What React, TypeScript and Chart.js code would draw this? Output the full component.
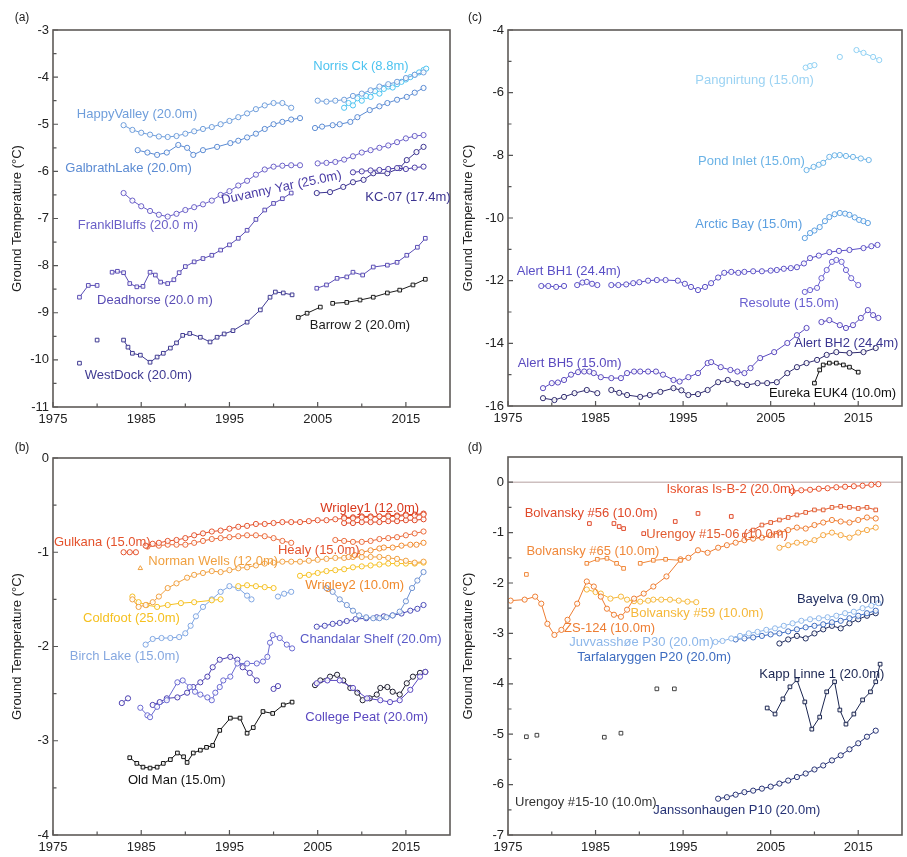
import React, { useEffect, useRef } from "react";
import { Chart, registerables } from "chart.js";
Chart.register(...registerables);

const FONT = "'Liberation Sans', Arial, Helvetica, sans-serif";
type Pt = [number, number | null];

const YEAR_TICKS = [1975, 1985, 1995, 2005, 2015];
const YEAR_MINOR = [1980, 1990, 2000, 2010];
const A_Y_TICKS = [-11, -10, -9, -8, -7, -6, -5, -4, -3];
const B_Y_TICKS = [-4, -3, -2, -1, 0];
const C_Y_TICKS = [-16, -14, -12, -10, -8, -6, -4];
const D_Y_TICKS = [-7, -6, -5, -4, -3, -2, -1, 0];

// ---------- Panel (a) ----------
const HAPPY_VALLEY: Pt[] = [[1983,-5.02],[1984,-5.12],[1985,-5.18],[1986,-5.22],[1987,-5.26],[1988,-5.27],[1989,-5.25],[1990,-5.2],[1991,-5.15],[1992,-5.1],[1993,-5.06],[1994,-5.0],[1995,-4.93],[1996,-4.85],[1997,-4.77],[1998,-4.68],[1999,-4.6],[2000,-4.55],[2001,-4.55],[2002,-4.65],[2003,null],[2005,-4.5],[2006,-4.52],[2007,-4.5],[2008,-4.48],[2009,-4.4],[2010,-4.35],[2011,-4.28],[2012,-4.2],[2013,-4.15],[2014,-4.1],[2015,-4.02],[2016,-3.95],[2017,-3.9]];
const GALBRATH_LAKE: Pt[] = [[1984.6,-5.55],[1985.7,-5.6],[1986.8,-5.65],[1987.9,-5.6],[1989.2,-5.44],[1990.2,-5.5],[1990.9,-5.65],[1992,-5.55],[1993.6,-5.48],[1995.1,-5.4],[1996,-5.35],[1997,-5.28],[1998,-5.2],[1999,-5.1],[2000,-5.0],[2001,-4.95],[2002,-4.9],[2003,-4.87],[2004,null],[2004.7,-5.08],[2005.5,-5.05],[2006.7,-5.02],[2007.5,-5.0],[2008.7,-4.95],[2009.5,-4.85],[2010.9,-4.7],[2012,-4.62],[2012.9,-4.55],[2014,-4.48],[2015.1,-4.42],[2016,-4.33],[2017,-4.23]];
const NORRIS_CK: Pt[] = [[2008,-4.65],[2008.5,-4.55],[2009,-4.6],[2009.5,-4.45],[2010,-4.5],[2010.5,-4.4],[2011,-4.42],[2011.5,-4.3],[2012,-4.35],[2012.5,-4.25],[2013,-4.2],[2013.5,-4.22],[2014,-4.15],[2014.5,-4.1],[2015,-4.05],[2015.5,-4.0],[2016,-3.95],[2016.5,-3.9],[2017,-3.85],[2017.3,-3.82]];
const FRANKLIN_BLUFFS: Pt[] = [[1983,-6.46],[1984,-6.62],[1985,-6.74],[1986,-6.84],[1987,-6.92],[1988,-6.96],[1989,-6.9],[1990,-6.82],[1991,-6.76],[1992,-6.7],[1993,-6.62],[1994,-6.5],[1995,-6.42],[1996,-6.3],[1997,-6.2],[1998,-6.07],[1999,-5.96],[2000,-5.9],[2001,-5.88],[2002,-5.87],[2003,-5.87],[2004,null],[2005,-5.83],[2006,-5.82],[2007,-5.8],[2008,-5.75],[2009,-5.68],[2010,-5.6],[2011,-5.55],[2012,-5.5],[2013,-5.45],[2014,-5.38],[2015,-5.3],[2016,-5.25],[2017,-5.23]];
const DUVANNY_YAR: Pt[] = [[2009,-6.02],[2010,-6.0],[2011,-5.98],[2012,-5.97],[2013,-5.95],[2014,-5.93],[2015,-5.95],[2016,-5.92],[2017,-5.9]];
const KC_07: Pt[] = [[2004.9,-6.46],[2006.4,-6.44],[2007.9,-6.33],[2009,-6.23],[2010.2,-6.18],[2011.3,-6.04],[2012.9,-6.04],[2014.3,-5.93],[2015.1,-5.76],[2016.2,-5.59],[2017,-5.48]];
const DEADHORSE: Pt[] = [[1978,-8.67],[1979,-8.42],[1980,-8.42],[1981,null],[1981.7,-8.14],[1982.3,-8.12],[1983,-8.15],[1983.7,-8.38],[1984.5,-8.45],[1985.2,-8.44],[1986,-8.14],[1986.6,-8.2],[1987.2,-8.35],[1988,-8.38],[1988.7,-8.3],[1989.3,-8.15],[1990,-8.02],[1991,-7.92],[1992,-7.85],[1993,-7.78],[1994,-7.67],[1995,-7.56],[1996,-7.42],[1997,-7.25],[1998,-7.02],[1999,-6.82],[2000,-6.68],[2001,-6.58],[2002,-6.46],[2003,null],[2004.9,-8.48],[2006,-8.41],[2007.2,-8.27],[2008.3,-8.24],[2009,-8.14],[2010.1,-8.2],[2011.3,-8.03],[2012.9,-7.99],[2014,-7.93],[2015.1,-7.78],[2016.3,-7.61],[2017.2,-7.42]];
const WEST_DOCK: Pt[] = [[1978,-10.07],[1979,null],[1980,-9.58],[1981,null],[1983,-9.58],[1983.5,-9.73],[1984,-9.86],[1984.9,-9.9],[1986,-10.05],[1986.8,-9.94],[1987.5,-9.86],[1988.3,-9.75],[1989,-9.64],[1989.7,-9.48],[1990.5,-9.44],[1991.7,-9.52],[1992.8,-9.62],[1993.6,-9.52],[1994.4,-9.45],[1995.4,-9.38],[1997,-9.2],[1998.5,-8.94],[1999.6,-8.67],[2000.2,-8.56],[2001.1,-8.58],[2002.1,-8.62]];
const BARROW_2: Pt[] = [[2002.8,-9.1],[2003.8,-9.01],[2005.3,-8.88],[2006,null],[2006.7,-8.8],[2008.3,-8.78],[2009.8,-8.73],[2011.3,-8.67],[2012.9,-8.58],[2014.3,-8.52],[2015.8,-8.41],[2017.2,-8.29]];

// ---------- Panel (b) ----------
const GULKANA: Pt[] = [[1983,-1.0],[1983.7,-1.0],[1984.4,-1.0],[1985,null],[1985.5,-0.93],[1986.3,-0.91],[1987,-0.9],[1988,-0.88],[1989,-0.87],[1990,-0.85],[1991,-0.82],[1992,-0.8],[1993,-0.78],[1994,-0.77],[1995,-0.75],[1996,-0.73],[1997,-0.72],[1998,-0.7],[1999,-0.7],[2000,-0.69],[2001,-0.68],[2002,-0.68],[2003,-0.68],[2004,-0.67],[2005,-0.66],[2006,-0.66],[2007,-0.65],[2008,-0.64],[2009,-0.64],[2010,-0.63],[2011,-0.63],[2012,-0.62],[2013,-0.62],[2014,-0.62],[2015,-0.61],[2016,-0.61],[2017,-0.6]];
const HEALY: Pt[] = [[1985.7,-0.94],[1987,-0.93],[1988,-0.92],[1989,-0.92],[1990,-0.92],[1991,-0.9],[1992,-0.88],[1993,-0.86],[1994,-0.85],[1995,-0.84],[1996,-0.83],[1997,-0.82],[1998,-0.82],[1999,-0.83],[2000,-0.85],[2001,-0.88],[2002,-0.9],[2003,null],[2007,-0.87],[2008,-0.88],[2009,-0.89],[2010,-0.89],[2011,-0.88],[2012,-0.86],[2013,-0.85],[2014,-0.84],[2015,-0.82],[2016,-0.8],[2017,-0.78]];
const WRIGLEY_1: Pt[] = [[2008,-0.63],[2009,-0.63],[2010,-0.62],[2011,-0.62],[2012,-0.62],[2013,-0.61],[2014,-0.61],[2015,-0.6],[2016,-0.6],[2017,-0.59]];
const WRIGLEY_1_LOWER: Pt[] = [[2008,-0.69],[2009,-0.69],[2010,-0.68],[2011,-0.68],[2012,-0.68],[2013,-0.67],[2014,-0.67],[2015,-0.66],[2016,-0.66],[2017,-0.65]];
const WRIGLEY_2: Pt[] = [[2008.5,-1.05],[2009.2,-1.03],[2010,-1.0],[2011,-0.98],[2012,-0.96],[2012.5,-0.95],[2013.5,-0.95],[2014.5,-0.93],[2015.5,-0.92],[2016.2,-0.92],[2017,-0.9]];
const NORMAN_WELLS: Pt[] = [[1984,-1.5],[1984.7,-1.58],[1985.5,-1.56],[1986.3,-1.53],[1987,-1.47],[1988,-1.38],[1989,-1.33],[1990.2,-1.27],[1991,-1.24],[1992,-1.22],[1993,-1.2],[1994,-1.21],[1995,-1.19],[1996,-1.17],[1997,-1.16],[1998,-1.14],[1999,-1.12],[2000,-1.11],[2001,-1.1],[2002,-1.1],[2003,-1.1],[2004,-1.09],[2005,-1.08],[2006,-1.07],[2007,-1.06],[2008,-1.06],[2009,-1.05],[2010,-1.05],[2011,-1.05],[2012,-1.05],[2013,-1.06],[2014,-1.07],[2015,-1.09],[2016,-1.11],[2017,-1.1]];
const NORMAN_WELLS_EARLY: Pt[] = [[1984.9,-1.17]];
const COLDFOOT: Pt[] = [[1984,-1.47],[1984.7,-1.53],[1985.6,-1.56],[1986.8,-1.58],[1988,-1.56],[1989.5,-1.54],[1991,-1.53],[1993,-1.51],[1994,-1.5],[1995,null],[1996,-1.36],[1997,-1.35],[1998,-1.36],[1999,-1.37],[2000,-1.38],[2001,null],[2003,-1.25],[2004,-1.24],[2005,-1.22],[2006,-1.2],[2007,-1.19],[2008,-1.18],[2009,-1.16],[2010,-1.15],[2011,-1.14],[2012,-1.13],[2013,-1.12],[2014,-1.12],[2015,-1.12],[2016,-1.12],[2017,-1.11]];
const BIRCH_LAKE: Pt[] = [[1985.5,-1.98],[1986.3,-1.92],[1987.3,-1.91],[1988.3,-1.91],[1989.3,-1.9],[1990,-1.86],[1990.6,-1.78],[1991.2,-1.68],[1992,-1.58],[1993,-1.5],[1994,-1.42],[1995,-1.36],[1996,-1.38],[1997,-1.46],[1997.5,-1.5],[1998,null],[2000.5,-1.47],[2001.2,-1.44],[2002,-1.42]];
const CHANDALAR_DIP: Pt[] = [[2006,-1.38],[2006.7,-1.42],[2007.5,-1.5],[2008.3,-1.56],[2009,-1.62],[2009.7,-1.67],[2010.5,-1.69],[2011.3,-1.7],[2012,-1.7],[2012.8,-1.69],[2013.5,-1.67],[2014.3,-1.63],[2015,-1.52],[2015.7,-1.38],[2016.3,-1.3],[2017,-1.21]];
const CHANDALAR_SHELF: Pt[] = [[2004.9,-1.79],[2005.8,-1.78],[2006.7,-1.76],[2007.5,-1.75],[2008.3,-1.73],[2009.3,-1.71],[2010.5,-1.7],[2011.7,-1.69],[2012.5,-1.68],[2013.5,-1.67],[2014.5,-1.65],[2015.5,-1.62],[2016.3,-1.6],[2017,-1.56]];
const INTERIOR_1: Pt[] = [[1984.9,-2.65],[1985.7,-2.73],[1986,-2.75],[1986.8,-2.64],[1987.9,-2.57],[1989.1,-2.38],[1989.7,-2.36],[1990.5,-2.43],[1991.1,-2.48],[1991.7,-2.51],[1992.5,-2.54],[1993,-2.57],[1993.4,-2.49],[1993.9,-2.43],[1994.3,-2.36],[1995.1,-2.32],[1995.9,-2.18],[1997,-2.18],[1998.1,-2.18],[1998.8,-2.16],[1999.3,-2.11],[1999.6,-1.96],[1999.9,-1.88],[2000.7,-1.91],[2001.5,-1.98],[2002.1,-2.02]];
const INTERIOR_2: Pt[] = [[1982.8,-2.6],[1983.5,-2.55],[1984,null],[1986.3,-2.62],[1987.1,-2.59],[1987.9,-2.55],[1989.1,-2.54],[1990.2,-2.49],[1990.9,-2.43],[1991.7,-2.38],[1992.5,-2.32],[1993.1,-2.22],[1993.9,-2.14],[1995.1,-2.11],[1995.9,-2.14],[1996.5,-2.22],[1997.3,-2.28],[1998.1,-2.36],[1998.5,null],[2000,-2.45],[2000.5,-2.42]];
const COLLEGE_PEAT: Pt[] = [[2004.9,-2.39],[2006.1,-2.36],[2007.5,-2.36],[2009,-2.44],[2010.6,-2.55],[2012.1,-2.57],[2013.2,-2.59],[2014.3,-2.57],[2015.5,-2.46],[2016.6,-2.32],[2017.2,-2.27]];
const INTERIOR_DARK: Pt[] = [[2004.7,-2.41],[2005.3,-2.36],[2006.4,-2.32],[2007.2,-2.3],[2007.9,-2.36],[2008.7,-2.44],[2009.5,-2.49],[2010.1,-2.57],[2010.9,-2.55],[2011.7,-2.51],[2012.1,-2.44],[2012.9,-2.43],[2013.5,-2.48],[2014.3,-2.51],[2015.1,-2.39],[2015.8,-2.32],[2016.6,-2.28],[2017.2,-2.27]];
const OLD_MAN: Pt[] = [[1983.7,-3.18],[1984.5,-3.24],[1985.2,-3.28],[1986,-3.29],[1986.8,-3.28],[1987.5,-3.24],[1988.3,-3.2],[1989.1,-3.13],[1989.8,-3.17],[1990.2,-3.23],[1990.9,-3.13],[1991.7,-3.1],[1992.4,-3.07],[1993.1,-3.05],[1993.9,-2.89],[1995.1,-2.76],[1996.2,-2.76],[1997,-2.92],[1997.7,-2.86],[1998.8,-2.69],[1999.9,-2.71],[2001.1,-2.62],[2002.1,-2.59]];

// ---------- Panel (c) ----------
const PANGNIRTUNG: Pt[] = [[2009,-5.2],[2009.5,-5.15],[2010,-5.12],[2010.5,null],[2012.9,-4.86],[2013.5,null],[2014.8,-4.64],[2015.6,-4.73],[2016.7,-4.86],[2017.4,-4.96]];
const POND_INLET: Pt[] = [[2009.1,-8.47],[2009.9,-8.37],[2010.5,-8.3],[2011,-8.24],[2011.7,-8.05],[2012.3,-8.0],[2012.9,-7.99],[2013.6,-8.02],[2014.4,-8.05],[2015.3,-8.1],[2016.2,-8.15]];
const ARCTIC_BAY: Pt[] = [[2008.9,-10.64],[2009.5,-10.48],[2010,-10.4],[2010.6,-10.29],[2011.2,-10.1],[2011.7,-9.97],[2012.3,-9.88],[2012.9,-9.84],[2013.5,-9.86],[2014,-9.9],[2014.6,-9.98],[2015.1,-10.06],[2015.6,-10.1],[2016.1,-10.16]];
const ALERT_BH1: Pt[] = [[1978.8,-12.17],[1979.6,-12.17],[1980.5,-12.2],[1981.4,-12.17],[1982,null],[1982.9,-12.14],[1983.5,-12.06],[1984,-12.04],[1984.6,-12.1],[1985.2,-12.14],[1986,null],[1986.8,-12.14],[1987.6,-12.14],[1988.5,-12.12],[1989.3,-12.08],[1990,-12.05],[1991,-12.0],[1992,-11.98],[1993,-11.98],[1994.4,-12.0],[1995.2,-12.1],[1995.9,-12.2],[1996.7,-12.3],[1997.5,-12.2],[1998.2,-12.08],[1999,-11.9],[1999.7,-11.75],[2000.5,-11.72],[2001.3,-11.75],[2002,-11.72],[2003,-11.7],[2004,-11.7],[2005,-11.68],[2005.7,-11.66],[2006.5,-11.62],[2007.3,-11.6],[2008,-11.57],[2008.8,-11.45],[2009.5,-11.28],[2010.5,-11.2],[2011.7,-11.09],[2012.8,-11.05],[2014,-11.02],[2015.6,-10.96],[2016.5,-10.9],[2017.2,-10.86]];
const RESOLUTE: Pt[] = [[2008.9,-12.36],[2009.5,-12.3],[2010.3,-12.23],[2010.8,-11.92],[2011.4,-11.66],[2012,-11.4],[2012.5,-11.34],[2013.1,-11.4],[2013.6,-11.66],[2014.2,-11.92],[2015,-12.14]];
const ALERT_BH5: Pt[] = [[1979,-15.43],[1980,-15.27],[1980.7,-15.25],[1981.4,-15.17],[1982.2,-15.0],[1983,-14.92],[1983.7,-14.9],[1984.3,-14.9],[1984.8,-14.95],[1985.6,-15.08],[1986.8,-15.11],[1987.9,-15.11],[1988.6,-14.95],[1989.4,-14.9],[1990.1,-14.9],[1991,-14.9],[1991.9,-14.9],[1992.7,-15.0],[1993.9,-15.17],[1994.6,-15.22],[1995.6,-15.08],[1996.7,-14.95],[1997.8,-14.63],[1998.2,-14.6],[1999.3,-14.76],[2000.4,-14.85],[2001.2,-14.9],[2002,-14.95],[2002.7,-14.79],[2003.8,-14.47],[2005.4,-14.28],[2006.9,-13.99],[2008,-13.74],[2009.1,-13.51],[2010,null],[2010.8,-13.32],[2011.7,-13.26],[2012.9,-13.42],[2013.6,-13.51],[2014.4,-13.42],[2015.3,-13.19],[2016.1,-12.94],[2016.7,-13.1],[2017.3,-13.19]];
const ALERT_BH2: Pt[] = [[1979,-15.75],[1980.3,-15.81],[1981.4,-15.71],[1982.6,-15.59],[1984,-15.49],[1985.2,-15.59],[1986,null],[1986.8,-15.49],[1987.7,-15.58],[1988.6,-15.65],[1990.1,-15.71],[1991.2,-15.65],[1992.4,-15.55],[1993.9,-15.43],[1994.8,-15.5],[1995.6,-15.65],[1996.7,-15.62],[1997.8,-15.49],[1999,-15.24],[2000.1,-15.17],[2001.2,-15.27],[2002.3,-15.33],[2003.5,-15.27],[2004.6,-15.27],[2005.7,-15.24],[2006.9,-14.95],[2008,-14.76],[2009.1,-14.63],[2010.3,-14.53],[2011.4,-14.37],[2012.5,-14.28],[2014,-14.31],[2015.6,-14.28],[2017,-14.15]];
const EUREKA_EUK4: Pt[] = [[2010,-15.27],[2010.6,-14.85],[2011,-14.69],[2011.7,-14.63],[2012.5,-14.63],[2013.3,-14.69],[2014,-14.76],[2015,-14.92]];

// ---------- Panel (d) ----------
const ISKORAS: Pt[] = [[2007.5,-0.18],[2008.5,-0.16],[2009.5,-0.15],[2010.5,-0.13],[2011.5,-0.12],[2012.5,-0.1],[2013.5,-0.09],[2014.5,-0.08],[2015.5,-0.07],[2016.5,-0.05],[2017.3,-0.04]];
const BOLVANSKY_56: Pt[] = [[1984.3,-0.82],[1987.1,-0.82],[1987.7,-0.88],[1988.2,-0.92],[1990.5,-1.02],[1994.1,-0.78],[1996.7,-0.62],[2000.5,-0.68]];
const URENGOY_15_06: Pt[] = [[2002,-1.05],[2003,-0.95],[2004,-0.85],[2005,-0.8],[2006,-0.75],[2007,-0.7],[2008,-0.65],[2009,-0.6],[2010,-0.55],[2011,-0.55],[2012,-0.5],[2013,-0.48],[2014,-0.5],[2015,-0.52],[2016,-0.5],[2017,-0.55]];
const BOLVANSKY_65: Pt[] = [[1984,-1.61],[1985.2,-1.53],[1986.3,-1.51],[1987.4,-1.61],[1988.2,-1.71],[1989,null],[1990.1,-1.61],[1991.6,-1.55],[1993,-1.53],[1994.7,-1.55]];
const BOLVANSKY_65_EARLY: Pt[] = [[1977.1,-1.83]];
const ZS_124: Pt[] = [[1975.3,-2.35],[1976.9,-2.33],[1978.1,-2.27],[1978.8,-2.41],[1979.5,-2.81],[1980.3,-3.03],[1981.1,-2.93],[1981.8,-2.73],[1982.9,-2.41],[1984,-1.97],[1984.8,-2.07],[1985.6,-2.27],[1986.3,-2.51],[1987.1,-2.63],[1987.9,-2.67],[1988.6,-2.53],[1989.4,-2.31],[1990.5,-2.21],[1991.6,-2.07],[1993.1,-1.87],[1994.7,-1.53],[1995.6,-1.5],[1996.7,-1.35],[1997.8,-1.4],[1999,-1.3],[2000,-1.25],[2001,-1.2],[2002,-1.15],[2003,-1.12],[2004,-1.1],[2005,-1.05],[2006,-1.0],[2007,-0.95],[2008,-0.9],[2009,-0.92],[2010,-0.85],[2011,-0.8],[2012,-0.75],[2013,-0.78],[2014,-0.8],[2015,-0.75],[2016,-0.7],[2017,-0.72]];
const BOLVANSKY_59: Pt[] = [[1984,-2.13],[1985,-2.18],[1985.6,-2.21],[1986.7,-2.31],[1987.9,-2.27],[1988.6,-2.33],[1989.4,-2.36],[1990.1,-2.37],[1991,-2.35],[1991.6,-2.33],[1992.5,-2.33],[1993.5,-2.33],[1994.5,-2.35],[1995.5,-2.37],[1996.5,-2.38]];
const URENGOY_LATE: Pt[] = [[2006,-1.3],[2007,-1.25],[2008,-1.2],[2009,-1.2],[2010,-1.15],[2011,-1.05],[2012,-1.0],[2013,-1.05],[2014,-1.1],[2015,-1.0],[2016,-0.95],[2017,-0.9]];
const JUVVASSHOE: Pt[] = [[1998.7,-3.17],[1999.5,-3.15],[2000.5,-3.1],[2001.5,-3.05],[2002.5,-3.0],[2003.5,-2.97],[2004.5,-2.93],[2005.5,-2.9],[2006.5,-2.85],[2007.5,-2.8],[2008.5,-2.75],[2009.5,-2.72],[2010.5,-2.7],[2011.5,-2.68],[2012.5,-2.65],[2013.5,-2.6],[2014.5,-2.57],[2015.5,-2.5],[2016.5,-2.45],[2017.3,-2.4]];
const TARFALARYGGEN: Pt[] = [[2001,-3.12],[2002,-3.1],[2003,-3.08],[2004,-3.05],[2005,-3.02],[2006,-3.0],[2007,-2.96],[2008,-2.92],[2009,-2.88],[2010,-2.85],[2011,-2.82],[2012,-2.78],[2013,-2.75],[2014,-2.7],[2015,-2.65],[2016,-2.6],[2017,-2.55]];
const BAYELVA: Pt[] = [[2006,-3.2],[2007,-3.12],[2008,-3.05],[2009,-3.1],[2010,-3.0],[2011,-2.92],[2012,-2.85],[2013,-2.9],[2014,-2.8],[2015,-2.72],[2016,-2.65],[2017,-2.6]];
const KAPP_LINNE: Pt[] = [[2004.6,-4.48],[2005.5,-4.6],[2006.4,-4.3],[2007.2,-4.06],[2008,-3.92],[2008.9,-4.36],[2009.7,-4.9],[2010.6,-4.66],[2011.4,-4.16],[2012.3,-3.96],[2012.9,-4.52],[2013.6,-4.8],[2014.5,-4.6],[2015.5,-4.32],[2016.4,-4.16],[2017,-3.96],[2017.5,-3.61]];
const JANSSONHAUGEN: Pt[] = [[1999,-6.28],[2000,-6.25],[2001,-6.2],[2002,-6.15],[2003,-6.12],[2004,-6.08],[2005,-6.04],[2006,-5.98],[2007,-5.92],[2008,-5.85],[2009,-5.78],[2010,-5.7],[2011,-5.62],[2012,-5.52],[2013,-5.42],[2014,-5.3],[2015,-5.18],[2016,-5.05],[2017,-4.93]];
const URENGOY_15_10: Pt[] = [[1977.1,-5.05],[1978.3,-5.02],[1986,-5.06],[1987.9,-4.98],[1992,-4.1],[1994,-4.1]];

type Spec = { data: Pt[]; color: string; style?: string; line?: boolean };
type Label = { text: string; x: number; y: number; color: string; rot?: number };

const A_SERIES: Spec[] = [
  { data: HAPPY_VALLEY, color: "#6f9edb" },
  { data: GALBRATH_LAKE, color: "#5b8bd3" },
  { data: NORRIS_CK, color: "#4cc3f0" },
  { data: FRANKLIN_BLUFFS, color: "#6b60c8" },
  { data: DUVANNY_YAR, color: "#4a3ca6" },
  { data: KC_07, color: "#3b3390" },
  { data: DEADHORSE, color: "#5a4db5", style: "rect" },
  { data: WEST_DOCK, color: "#3f3a92", style: "rect" },
  { data: BARROW_2, color: "#1c1c1c", style: "rect" },
];
const A_LABELS: Label[] = [
  { text: "HappyValley (20.0m)", x: 1977.7, y: -4.8, color: "#6f9edb" },
  { text: "GalbrathLake (20.0m)", x: 1976.4, y: -5.93, color: "#5b8bd3" },
  { text: "FranklBluffs (20.0 m)", x: 1977.8, y: -7.14, color: "#6b60c8" },
  { text: "Deadhorse (20.0 m)", x: 1980.0, y: -8.73, color: "#5a4db5" },
  { text: "WestDock (20.0m)", x: 1978.6, y: -10.33, color: "#3f3a92" },
  { text: "Barrow 2 (20.0m)", x: 2004.1, y: -9.26, color: "#1c1c1c" },
  { text: "Norris Ck (8.8m)", x: 2004.5, y: -3.78, color: "#4cc3f0" },
  { text: "Duvanny Yar (25.0m)", x: 2000.9, y: -6.35, color: "#4a3ca6", rot: -12 },
  { text: "KC-07 (17.4m)", x: 2010.4, y: -6.55, color: "#3b3390" },
];

const B_SERIES: Spec[] = [
  { data: GULKANA, color: "#e4522c" },
  { data: WRIGLEY_1, color: "#d9381c" },
  { data: WRIGLEY_1_LOWER, color: "#de4524" },
  { data: HEALY, color: "#ea6a3a" },
  { data: WRIGLEY_2, color: "#f08a2c" },
  { data: NORMAN_WELLS, color: "#f0a040" },
  { data: NORMAN_WELLS_EARLY, color: "#f0a040", style: "triangle", line: false },
  { data: COLDFOOT, color: "#f5c020" },
  { data: BIRCH_LAKE, color: "#7fa6e2" },
  { data: CHANDALAR_DIP, color: "#6f93d2" },
  { data: CHANDALAR_SHELF, color: "#4a4bb8" },
  { data: INTERIOR_1, color: "#6a6ad2" },
  { data: INTERIOR_2, color: "#4b3fb0" },
  { data: COLLEGE_PEAT, color: "#5a48c0" },
  { data: INTERIOR_DARK, color: "#1d1d2e" },
  { data: OLD_MAN, color: "#111111", style: "rect" },
];
const B_LABELS: Label[] = [
  { text: "Gulkana (15.0m)", x: 1975.1, y: -0.9, color: "#e4522c" },
  { text: "Wrigley1 (12.0m)", x: 2005.3, y: -0.53, color: "#d9381c" },
  { text: "Healy (15.0m)", x: 2000.5, y: -0.98, color: "#e4522c" },
  { text: "Norman Wells (12.0m)", x: 1985.8, y: -1.1, color: "#f0a040" },
  { text: "Wrigley2 (10.0m)", x: 2003.6, y: -1.35, color: "#f08a2c" },
  { text: "Coldfoot (25.0m)", x: 1978.4, y: -1.7, color: "#f5c020" },
  { text: "Birch Lake (15.0m)", x: 1976.9, y: -2.11, color: "#86a8e0" },
  { text: "Chandalar Shelf (20.0m)", x: 2003.0, y: -1.93, color: "#5a5ac8" },
  { text: "College Peat (20.0m)", x: 2003.6, y: -2.75, color: "#5a48c0" },
  { text: "Old Man (15.0m)", x: 1983.5, y: -3.42, color: "#111111" },
];

const C_SERIES: Spec[] = [
  { data: PANGNIRTUNG, color: "#8fd0f3" },
  { data: POND_INLET, color: "#6bb3e6" },
  { data: ARCTIC_BAY, color: "#5b9fe0" },
  { data: ALERT_BH1, color: "#5a4fc6" },
  { data: RESOLUTE, color: "#6a60d0" },
  { data: ALERT_BH5, color: "#5a4abf" },
  { data: ALERT_BH2, color: "#2e2a6e" },
  { data: EUREKA_EUK4, color: "#111111", style: "rect" },
];
const C_LABELS: Label[] = [
  { text: "Pangnirtung (15.0m)", x: 1996.4, y: -5.6, color: "#9cd3f3" },
  { text: "Pond Inlet (15.0m)", x: 1996.7, y: -8.18, color: "#6bb3e6" },
  { text: "Arctic Bay (15.0m)", x: 1996.4, y: -10.22, color: "#5b9fe0" },
  { text: "Alert BH1 (24.4m)", x: 1976.0, y: -11.72, color: "#5a4fc6" },
  { text: "Resolute (15.0m)", x: 2001.4, y: -12.72, color: "#6a60d0" },
  { text: "Alert BH5 (15.0m)", x: 1976.1, y: -14.63, color: "#5a4abf" },
  { text: "Alert BH2 (24.4m)", x: 2007.7, y: -13.99, color: "#3a3590" },
  { text: "Eureka EUK4 (10.0m)", x: 2004.8, y: -15.59, color: "#111111" },
];

const D_SERIES: Spec[] = [
  { data: ISKORAS, color: "#e8502a" },
  { data: BOLVANSKY_56, color: "#e04a2a", style: "rect", line: false },
  { data: URENGOY_15_06, color: "#e25c30", style: "rect" },
  { data: BOLVANSKY_65, color: "#f0883a", style: "rect" },
  { data: BOLVANSKY_65_EARLY, color: "#f0883a", style: "rect", line: false },
  { data: ZS_124, color: "#ee7d32" },
  { data: BOLVANSKY_59, color: "#f5b83a" },
  { data: URENGOY_LATE, color: "#f4a640" },
  { data: JUVVASSHOE, color: "#8db7ea" },
  { data: TARFALARYGGEN, color: "#3d6cc0" },
  { data: BAYELVA, color: "#1e2b5e" },
  { data: KAPP_LINNE, color: "#1a2550", style: "rect" },
  { data: JANSSONHAUGEN, color: "#263275" },
  { data: URENGOY_15_10, color: "#444444", style: "rect", line: false },
];
const D_LABELS: Label[] = [
  { text: "Iskoras Is-B-2 (20.0m)", x: 1993.1, y: -0.14, color: "#e8502a" },
  { text: "Bolvansky #56 (10.0m)", x: 1976.9, y: -0.62, color: "#e04a2a" },
  { text: "Urengoy #15-06 (10.0m)", x: 1990.8, y: -1.04, color: "#e25c30" },
  { text: "Bolvansky #65 (10.0m)", x: 1977.1, y: -1.38, color: "#f0883a" },
  { text: "Bolvansky #59 (10.0m)", x: 1989.0, y: -2.6, color: "#f5b83a" },
  { text: "ZS-124 (10.0m)", x: 1981.4, y: -2.91, color: "#ee7d32" },
  { text: "Bayelva (9.0m)", x: 2008.0, y: -2.33, color: "#1e2b5e" },
  { text: "Juvvasshøe P30 (20.0m)", x: 1982.0, y: -3.18, color: "#8db7ea" },
  { text: "Tarfalaryggen P20 (20.0m)", x: 1982.9, y: -3.47, color: "#3d6cc0" },
  { text: "Kapp Linne 1 (20.0m)", x: 2003.7, y: -3.82, color: "#1a2550" },
  { text: "Urengoy #15-10 (10.0m)", x: 1975.8, y: -6.35, color: "#333333" },
  { text: "Janssonhaugen P10 (20.0m)", x: 1991.6, y: -6.51, color: "#263275" },
];

type PanelProps = {
  left: number; top: number; width: number; height: number;
  area: { left: number; top: number; right: number; bottom: number };
  yMin: number; yMax: number; yTicks: number[]; yMinorStep: number;
  series: Spec[]; labels: Label[]; letter: string; letterX: number; titlePad: number; zeroLine?: boolean;
};

function Panel(p: PanelProps) {
  const ref = useRef<HTMLCanvasElement>(null);
  useEffect(() => {
    const overlay = {
      id: "overlay",
      beforeDatasetsDraw(chart: any) {
        const { ctx, chartArea: a, scales } = chart;
        if (p.zeroLine) {
          const y0 = scales.y.getPixelForValue(0);
          ctx.save();
          ctx.strokeStyle = "#cdbfbf";
          ctx.lineWidth = 1.5;
          ctx.beginPath();
          ctx.moveTo(a.left, y0);
          ctx.lineTo(a.right, y0);
          ctx.stroke();
          ctx.restore();
        }
      },
      afterDraw(chart: any) {
        const { ctx, chartArea: a, scales } = chart;
        const xs = scales.x, ys = scales.y;
        ctx.save();
        // ticks (inward)
        ctx.strokeStyle = "#555";
        ctx.lineWidth = 1.2;
        ctx.beginPath();
        YEAR_TICKS.forEach((v) => { const x = xs.getPixelForValue(v); ctx.moveTo(x, a.bottom); ctx.lineTo(x, a.bottom - 5); });
        YEAR_MINOR.forEach((v) => { const x = xs.getPixelForValue(v); ctx.moveTo(x, a.bottom); ctx.lineTo(x, a.bottom - 3.5); });
        p.yTicks.forEach((v) => { const y = ys.getPixelForValue(v); ctx.moveTo(a.left, y); ctx.lineTo(a.left + 5, y); });
        for (let i = 0; i < p.yTicks.length - 1; i++) {
          const v = p.yTicks[i] + p.yMinorStep;
          if (v < p.yTicks[i + 1]) { const y = ys.getPixelForValue(v); ctx.moveTo(a.left, y); ctx.lineTo(a.left + 3.5, y); }
        }
        ctx.stroke();
        // frame
        ctx.strokeStyle = "#5e5a58";
        ctx.lineWidth = 1.6;
        ctx.strokeRect(a.left, a.top, a.right - a.left, a.bottom - a.top);
        // labels
        ctx.font = `13px ${FONT}`;
        ctx.textBaseline = "middle";
        ctx.textAlign = "left";
        p.labels.forEach((l) => {
          const x = xs.getPixelForValue(l.x), y = ys.getPixelForValue(l.y);
          ctx.fillStyle = l.color;
          if (l.rot) {
            ctx.save();
            ctx.translate(x, y);
            ctx.rotate((l.rot * Math.PI) / 180);
            ctx.textAlign = "center";
            ctx.fillText(l.text, 0, 0);
            ctx.restore();
          } else {
            ctx.fillText(l.text, x, y);
          }
        });
        // panel letter
        ctx.fillStyle = "#222";
        ctx.font = `12px ${FONT}`;
        ctx.textAlign = "center";
        ctx.fillText(p.letter, p.letterX, 18);
        ctx.restore();
      },
    };
    const chart = new Chart(ref.current as HTMLCanvasElement, {
      type: "scatter",
      data: {
        datasets: p.series.map((s) => ({
          data: s.data.map(([x, y]) => ({ x, y })),
          showLine: s.line !== false,
          spanGaps: false,
          borderColor: s.color,
          borderWidth: 1,
          pointStyle: s.style || "circle",
          pointRadius: 2.6,
          pointBorderWidth: 1,
          pointBorderColor: s.color,
          pointBackgroundColor: "rgba(255,255,255,0.85)",
        })),
      } as any,
      options: {
        responsive: false,
        animation: false,
        events: [],
        layout: { padding: { left: 0, top: p.area.top, right: p.width - p.area.right, bottom: 0 } },
        plugins: { legend: { display: false }, tooltip: { enabled: false } },
        scales: {
          x: {
            type: "linear", min: 1975, max: 2020,
            grid: { display: false, drawTicks: false }, border: { display: false },
            ticks: { font: { family: FONT, size: 13 }, color: "#222", padding: 5, maxRotation: 0, autoSkip: false, callback: (v: any) => String(v) },
            afterBuildTicks: (s: any) => { s.ticks = YEAR_TICKS.map((value) => ({ value })); },
            afterFit: (s: any) => { s.height = p.height - p.area.bottom; },
          },
          y: {
            type: "linear", min: p.yMin, max: p.yMax,
            grid: { display: false, drawTicks: false }, border: { display: false },
            ticks: { font: { family: FONT, size: 13 }, color: "#222", padding: 4, autoSkip: false, callback: (v: any) => String(v) },
            title: { display: true, text: "Ground Temperature (°C)", font: { family: FONT, size: 13 }, color: "#222", padding: { top: p.titlePad, bottom: 0 } },
            afterBuildTicks: (s: any) => { s.ticks = p.yTicks.map((value) => ({ value })); },
            afterFit: (s: any) => { s.width = p.area.left; },
          },
        },
      } as any,
      plugins: [overlay],
    });
    return () => chart.destroy();
  }, []);
  return (
    <canvas
      ref={ref}
      width={p.width}
      height={p.height}
      style={{ position: "absolute", left: p.left, top: p.top, width: p.width, height: p.height }}
    />
  );
}

export default function App() {
  return (
    <div style={{ position: "absolute", left: 0, top: 0, width: 907, height: 857, background: "#fff", overflow: "hidden" }}>
      <Panel left={0} top={0} width={455} height={430} area={{ left: 53, top: 30, right: 450, bottom: 407 }}
        yMin={-11} yMax={-3} yTicks={A_Y_TICKS} yMinorStep={0.5} series={A_SERIES} labels={A_LABELS} letter="(a)" letterX={22} titlePad={10} />
      <Panel left={455} top={0} width={452} height={430} area={{ left: 53, top: 30, right: 450, bottom: 406 }}
        yMin={-16} yMax={-4} yTicks={C_Y_TICKS} yMinorStep={1} series={C_SERIES} labels={C_LABELS} letter="(c)" letterX={20} titlePad={6} />
      <Panel left={0} top={430} width={455} height={427} area={{ left: 53, top: 28, right: 450, bottom: 405 }}
        yMin={-4} yMax={0} yTicks={B_Y_TICKS} yMinorStep={0.5} series={B_SERIES} labels={B_LABELS} letter="(b)" letterX={22} titlePad={10} />
      <Panel left={455} top={430} width={452} height={427} area={{ left: 53, top: 27, right: 450, bottom: 405 }}
        yMin={-7} yMax={0.5} yTicks={D_Y_TICKS} yMinorStep={0.5} series={D_SERIES} labels={D_LABELS} letter="(d)" letterX={20} titlePad={6} zeroLine />
    </div>
  );
}
